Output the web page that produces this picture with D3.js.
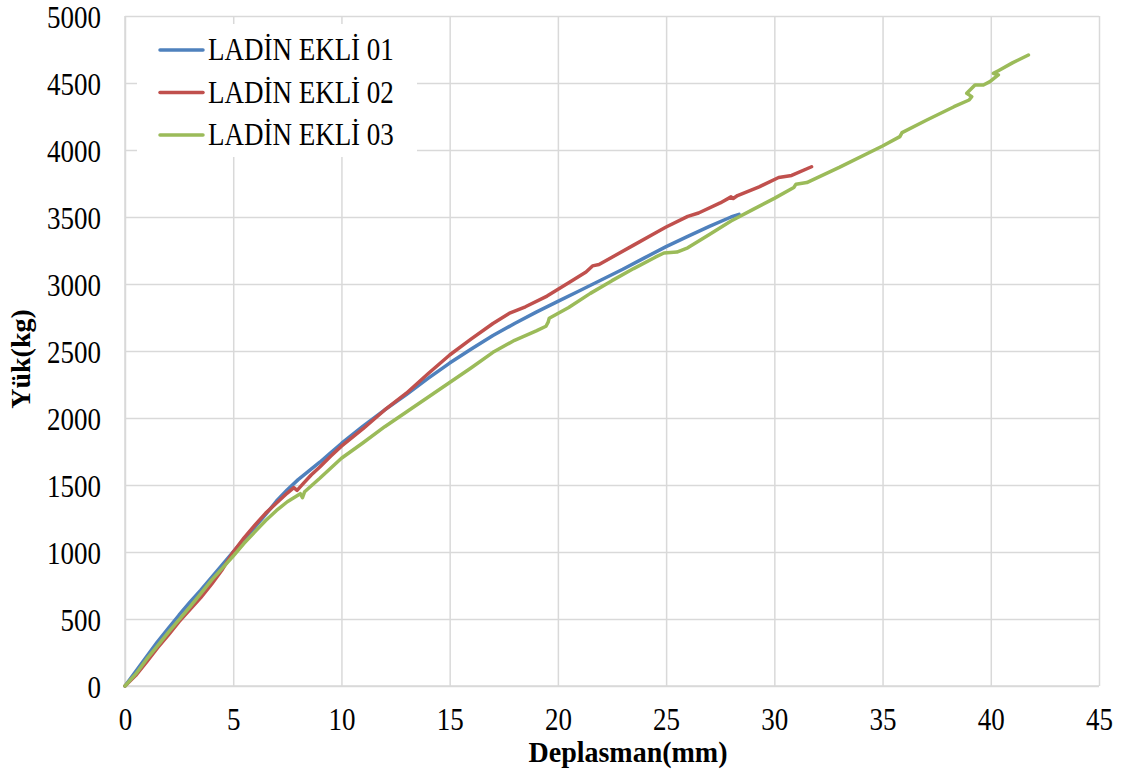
<!DOCTYPE html>
<html>
<head>
<meta charset="utf-8">
<script src="https://cdn.jsdelivr.net/npm/d3@7"></script>
<style>
  body { margin: 0; background: #fff; }
  svg { display: block; }
</style>
</head>
<body>
<div id="chart"></div>
<script>
// load-displacement curves, [mm, kg]
var seriesNames = ['LADİN EKLİ 01', 'LADİN EKLİ 02', 'LADİN EKLİ 03'];
var seriesColors = ['#4f81bd', '#c0504d', '#9bbb59'];

var ladin01 = [[0,0],[0.5,110],[1,220],[1.5,330],[2,430],[2.5,530],[3,625],[3.5,715],[4,810],[4.5,905],
  [5,1000],[5.5,1095],[6,1185],[6.5,1280],[7,1380],[7.5,1465],[8,1540],[8.5,1605],[9,1670],[9.5,1740],
  [10,1810],[11,1940],[12,2060],[13,2175],[14,2295],[15,2410],[16,2515],[17,2615],[18,2705],[19,2790],
  [20,2870],[21,2950],[22,3030],[23,3110],[24,3195],[25,3279],[26,3355],[27,3430],[28,3500],[28.37,3520]];

var ladin02 = [[0,0],[0.5,80],[1,180],[1.5,285],[2,380],[2.5,480],[3,570],[3.5,660],[4,760],[4.5,870],
  [5,1000],[5.5,1105],[6,1200],[6.5,1290],[7,1365],[7.5,1440],[7.8,1480],[7.95,1460],[8.2,1505],[8.6,1575],
  [9,1635],[9.5,1715],[10,1790],[11,1920],[12,2060],[13,2185],[14,2330],[15,2470],[16,2590],[17,2705],
  [17.8,2785],[18.5,2830],[19.5,2910],[20.5,3010],[21.3,3090],[21.6,3135],[21.9,3145],[22.5,3200],
  [23.5,3290],[24.5,3380],[25,3425],[26,3505],[26.5,3530],[27.5,3605],[28,3650],[28.1,3638],[28.3,3660],
  [29.3,3725],[30.2,3795],[30.8,3810],[31.72,3875]];

var ladin03 = [[0,0],[0.5,90],[1,200],[1.5,300],[2,400],[2.5,495],[3,590],[3.5,690],[4,790],[4.5,880],
  [5,970],[5.5,1065],[6,1150],[6.5,1235],[7,1310],[7.5,1375],[8.1,1435],[8.2,1405],[8.3,1450],[9,1550],
  [10,1700],[11,1815],[12,1935],[13,2045],[14,2155],[15,2265],[16,2375],[17,2490],[18,2580],[19,2650],
  [19.45,2685],[19.55,2715],[19.6,2745],[20.5,2825],[21.5,2930],[22.5,3025],[23.5,3115],[24.5,3200],
  [24.9,3231],[25.5,3238],[26,3270],[27,3370],[28,3470],[29,3555],[30,3639],[30.9,3720],[31,3745],
  [31.5,3757],[33,3870],[35,4030],[35.8,4100],[35.9,4130],[37,4220],[38.3,4323],[39,4373],[39.12,4398],
  [38.89,4423],[39.27,4485],[39.66,4485],[39.96,4510],[40.35,4560],[40.12,4572],[40.35,4592],[41,4650],
  [41.74,4709]];

var xTicks = [0,5,10,15,20,25,30,35,40,45];
var yTicks = [0,500,1000,1500,2000,2500,3000,3500,4000,4500,5000];

var font = '"Liberation Serif", "Times New Roman", serif';
var stretch = 1.16;

var margin = {top: 16, right: 25, bottom: 86, left: 125},
    width = 1124 - margin.left - margin.right,
    height = 772 - margin.top - margin.bottom;

var x = d3.scaleLinear().domain([0, 45]).range([0, width]);
var y = d3.scaleLinear().domain([0, 5000]).range([height, 0]);

var svg = d3.select('#chart')
  .append('svg')
    .attr('width', 1124)
    .attr('height', 772)
  .append('g')
    .attr('transform', 'translate(' + margin.left + ',' + margin.top + ')');

// gridlines + tick labels
var xAxis = d3.axisBottom(x).tickValues(xTicks).tickSize(-height).tickFormat(d3.format('d'));
var yAxis = d3.axisLeft(y).tickValues(yTicks).tickSize(-width).tickFormat(d3.format('d'));

var gx = svg.append('g')
    .attr('transform', 'translate(0,' + height + ')')
    .call(xAxis);
var gy = svg.append('g').call(yAxis);

[gx, gy].forEach(function(g) {
  g.select('.domain').remove();
  g.selectAll('.tick line').attr('stroke', '#d9d9d9').attr('stroke-width', 1.5);
  g.selectAll('.tick text')
    .attr('fill', '#000')
    .style('font-family', font)
    .style('font-size', '27px');
});

gx.selectAll('.tick text')
  .attr('y', null).attr('dy', null)
  .attr('text-anchor', 'middle')
  .attr('transform', 'translate(0,44) scale(1,' + stretch + ')');

gy.selectAll('.tick text')
  .attr('x', null).attr('dy', null)
  .attr('text-anchor', 'end')
  .attr('transform', 'translate(-24,11) scale(1,' + stretch + ')');

// axis lines
svg.append('line')
  .attr('x1', 0).attr('x2', 0).attr('y1', 0).attr('y2', height)
  .attr('stroke', '#d9d9d9').attr('stroke-width', 1.5);
svg.append('line')
  .attr('x1', 0).attr('x2', width).attr('y1', height).attr('y2', height)
  .attr('stroke', '#d9d9d9').attr('stroke-width', 1.5);

// axis titles
svg.append('text')
  .attr('transform', 'translate(' + (628 - margin.left) + ',' + (762 - margin.top) + ') scale(1,1.08)')
  .attr('text-anchor', 'middle')
  .style('font-family', font)
  .style('font-size', '28px')
  .style('font-weight', 'bold')
  .text('Deplasman(mm)');

svg.append('text')
  .attr('transform', 'translate(' + (30 - margin.left) + ',' + (359 - margin.top) + ') rotate(-90)')
  .attr('text-anchor', 'middle')
  .style('font-family', font)
  .style('font-size', '28px')
  .style('font-weight', 'bold')
  .text('Yük(kg)');

// curves
var line = d3.line()
  .x(function(d) { return x(d[0]); })
  .y(function(d) { return y(d[1]); });

[ladin01, ladin02, ladin03].forEach(function(data, i) {
  svg.append('path')
    .attr('d', line(data))
    .attr('fill', 'none')
    .attr('stroke', seriesColors[i])
    .attr('stroke-width', 3.5)
    .attr('stroke-linejoin', 'round')
    .attr('stroke-linecap', 'round');
});

// legend
var legend = svg.append('g')
  .attr('transform', 'translate(' + (137 - margin.left) + ',' + (24 - margin.top) + ')');

legend.append('rect')
  .attr('width', 280).attr('height', 133)
  .attr('fill', '#fff');

seriesNames.forEach(function(name, i) {
  var cy = 26 + i * 42.5;
  legend.append('line')
    .attr('x1', 23).attr('x2', 66)
    .attr('y1', cy).attr('y2', cy)
    .attr('stroke', seriesColors[i])
    .attr('stroke-width', 3.5)
    .attr('stroke-linecap', 'round');
  legend.append('text')
    .attr('transform', 'translate(71,' + (cy + 10) + ') scale(1,' + stretch + ')')
    .style('font-family', font)
    .style('font-size', '27px')
    .text(name);
});
</script>
</body>
</html>
